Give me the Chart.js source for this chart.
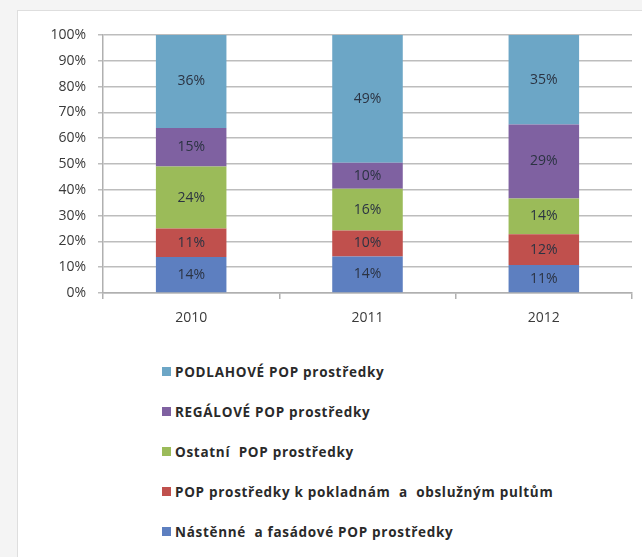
<!DOCTYPE html>
<html>
<head>
<meta charset="utf-8">
<script src="https://cdn.jsdelivr.net/npm/chart.js@4.4.1/dist/chart.umd.min.js"></script>
<style>
  html, body { margin: 0; padding: 0; }
  body { width: 642px; height: 557px; background: #f4f4f4; position: relative; overflow: hidden; font-family: "Open Sans", Lato, sans-serif; }
  #frame { position: absolute; left: 17px; top: 10px; right: -2px; bottom: -2px; background: #fff; border: 1px solid #dedede; }
  #wrap { position: absolute; left: 0; top: 0; width: 642px; height: 345px; }
  #legend { position: absolute; left: 162px; top: 363px; margin: 0; padding: 0; list-style: none; }
  #legend li { height: 40px; line-height: 18px; font-size: 13.5px; font-weight: bold; color: #2a2a2a; white-space: pre; letter-spacing: 0.7px; }
  #legend span { display: inline-block; width: 9px; height: 9px; margin-right: 4px; vertical-align: 1px; }
</style>
</head>
<body>
<div id="frame"></div>
<div id="wrap"><canvas id="chart"></canvas></div>
<ul id="legend"></ul>
<script>
// years on the x axis
var years = ['2010', '2011', '2012'];

// share of each POP type per year, in % (bottom to top of the stack)
var nastenne  = [14, 14, 11];
var pokladny  = [11, 10, 12];
var ostatni   = [24, 16, 14];
var regalove  = [15, 10, 29];
var podlahove = [36, 49, 35];

var seriesNames = [
  'Nástěnné  a fasádové POP prostředky',
  'POP prostředky k pokladnám  a  obslužným pultům',
  'Ostatní  POP prostředky',
  'REGÁLOVÉ POP prostředky',
  'PODLAHOVÉ POP prostředky'
];
var seriesValues = [nastenne, pokladny, ostatni, regalove, podlahove];
var seriesColors = ['#5d7fc0', '#c0504d', '#9bbb59', '#7f61a1', '#6ca6c6'];

var yTicks = [0, 10, 20, 30, 40, 50, 60, 70, 80, 90, 100];

// 100% stacked: each year is scaled to its total
var totals = years.map(function (y, i) {
  var s = 0;
  seriesValues.forEach(function (v) { s += v[i]; });
  return s;
});

var datasets = seriesValues.map(function (vals, k) {
  return {
    label: seriesNames[k],
    data: vals.map(function (v, i) { return v / totals[i] * 100; }),
    raw: vals,
    backgroundColor: seriesColors[k],
    borderWidth: 0,
    barPercentage: 0.4,
    categoryPercentage: 1
  };
});

var labelPlugin = {
  id: 'barLabels',
  afterDatasetsDraw: function (chart) {
    var ctx = chart.ctx;
    ctx.save();
    ctx.font = '14px "Open Sans", Lato, sans-serif';
    ctx.fillStyle = '#2b3342';
    ctx.textAlign = 'center';
    ctx.textBaseline = 'middle';
    chart.data.datasets.forEach(function (ds, k) {
      var meta = chart.getDatasetMeta(k);
      meta.data.forEach(function (bar, i) {
        var mid = (bar.y + bar.base) / 2;
        ctx.fillText(ds.raw[i] + '%', bar.x, mid);
      });
    });
    ctx.restore();
  }
};

var tickFont = { family: '"Open Sans", Lato, sans-serif', size: 14 };

var chart = new Chart(document.getElementById('chart'), {
  type: 'bar',
  data: { labels: years, datasets: datasets },
  options: {
    responsive: true,
    maintainAspectRatio: false,
    animation: false,
    layout: { padding: { left: 20, right: 10, top: 35, bottom: 0 } },
    plugins: {
      legend: { display: false },
      tooltip: { enabled: false }
    },
    scales: {
      x: {
        stacked: true,
        afterFit: function (s) { s.height = 52; },
        grid: {
          offset: true,
          color: function (c) { return c.index === 3 ? '#bdbdbd' : 'rgba(0,0,0,0)'; },
          tickColor: '#b0b0b0',
          tickLength: 6,
          lineWidth: 1.5
        },
        border: { color: '#b0b0b0', width: 1.5 },
        ticks: { padding: 11, color: '#3a3a3a', font: tickFont }
      },
      y: {
        stacked: true,
        min: 0,
        max: 100,
        afterFit: function (s) { s.width = 83; },
        afterBuildTicks: function (s) {
          s.ticks = yTicks.map(function (v) { return { value: v }; });
        },
        grid: { color: '#bdbdbd', lineWidth: 1.5, tickLength: 5 },
        border: { color: '#b0b0b0', width: 1.5 },
        ticks: {
          padding: 12,
          color: '#3a3a3a',
          font: tickFont,
          callback: function (v) { return v + '%'; }
        }
      }
    }
  },
  plugins: [labelPlugin]
});

// legend, top entry is the top of the stack
var legend = document.getElementById('legend');
for (var k = datasets.length - 1; k >= 0; k--) {
  var li = document.createElement('li');
  var box = document.createElement('span');
  box.style.background = seriesColors[k];
  li.appendChild(box);
  li.appendChild(document.createTextNode(seriesNames[k]));
  legend.appendChild(li);
}
</script>
</body>
</html>
